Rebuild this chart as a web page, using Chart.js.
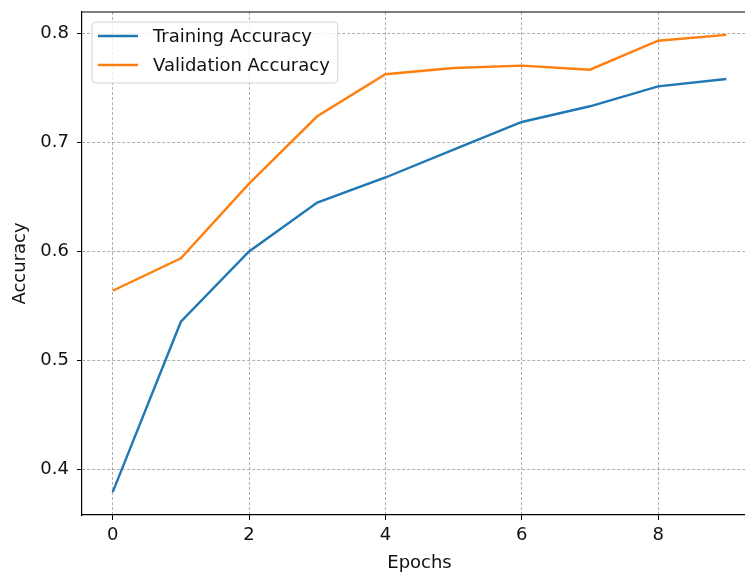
<!DOCTYPE html>
<html>
<head>
<meta charset="utf-8">
<script src="https://cdn.jsdelivr.net/npm/chart.js@4.4.1/dist/chart.umd.min.js"></script>
<style>
  html, body { margin: 0; padding: 0; background: #ffffff; overflow: hidden; }
  #wrap { position: relative; width: 770px; height: 572px; }
</style>
</head>
<body>
<div id="wrap"><canvas id="chart"></canvas></div>
<script>
// Training history over ten epochs
const epochs = [0, 1, 2, 3, 4, 5, 6, 7, 8, 9];
const trainingAccuracy   = [0.379, 0.5355, 0.600, 0.645, 0.668, 0.6935, 0.719, 0.7334, 0.7517, 0.7585];
const validationAccuracy = [0.564, 0.5938, 0.6624, 0.7242, 0.7628, 0.7686, 0.7707, 0.767, 0.7936, 0.799];
const xTickValues = [0, 2, 4, 6, 8];
const yTickValues = [0.4, 0.5, 0.6, 0.7, 0.8];

const FONT = 'DejaVu Sans';
const FS = 18;

// Axis limits with a 5% margin around the data
const allY = trainingAccuracy.concat(validationAccuracy);
const yLo = Math.min(...allY), yHi = Math.max(...allY);
const yPad = (yHi - yLo) * 0.05;
const xLo = Math.min(...epochs), xHi = Math.max(...epochs);
const xPad = (xHi - xLo) * 0.05;

const toPoints = (ys) => epochs.map((e, i) => ({ x: e, y: ys[i] }));

// Top frame line of the plotting area
const framePlugin = {
  id: 'frame',
  afterDraw(chart) {
    const { ctx, chartArea: a } = chart;
    ctx.save();
    ctx.strokeStyle = '#000';
    ctx.lineWidth = 1.2;
    ctx.beginPath();
    ctx.moveTo(a.left, a.top);
    ctx.lineTo(a.right, a.top);
    ctx.stroke();
    ctx.restore();
  }
};

// Legend box drawn inside the upper-left corner of the plot
const innerLegend = {
  id: 'innerLegend',
  afterDatasetsDraw(chart) {
    const { ctx, chartArea: a } = chart;
    const sets = chart.data.datasets;
    ctx.save();
    ctx.font = FS + 'px "' + FONT + '"';
    const maxW = Math.max(...sets.map(d => ctx.measureText(d.label).width));
    const bx = a.left + 10, by = a.top + 10;
    const lineLen = 40, padL = 6, gap = 15, padR = 8, rowH = 29, padT = 14;
    const bw = padL + lineLen + gap + maxW + padR;
    const bh = padT * 2 + rowH * (sets.length - 1) + 4;
    ctx.beginPath();
    ctx.roundRect(bx, by, bw, bh, 4);
    ctx.fillStyle = 'rgba(255,255,255,0.8)';
    ctx.fill();
    ctx.strokeStyle = '#d4d4d4';
    ctx.lineWidth = 1;
    ctx.stroke();
    sets.forEach((d, i) => {
      const cy = by + padT + i * rowH;
      ctx.strokeStyle = d.borderColor;
      ctx.lineWidth = d.borderWidth;
      ctx.beginPath();
      ctx.moveTo(bx + padL, cy);
      ctx.lineTo(bx + padL + lineLen, cy);
      ctx.stroke();
      ctx.fillStyle = '#111';
      ctx.textBaseline = 'middle';
      ctx.textAlign = 'left';
      ctx.fillText(d.label, bx + padL + lineLen + gap, cy + 1.5);
    });
    ctx.restore();
  }
};

const gridCommon = {
  color: 'rgba(130,130,130,0.8)',
  lineWidth: 0.8,
  tickColor: '#000',
  tickLength: 5,
  tickWidth: 1,
  drawTicks: true
};

new Chart(document.getElementById('chart'), {
  type: 'line',
  data: {
    datasets: [
      {
        label: 'Training Accuracy',
        data: toPoints(trainingAccuracy),
        borderColor: '#1f77b4',
        borderWidth: 2.4,
        pointRadius: 0,
        tension: 0,
        fill: false
      },
      {
        label: 'Validation Accuracy',
        data: toPoints(validationAccuracy),
        borderColor: '#ff7f0e',
        borderWidth: 2.4,
        pointRadius: 0,
        tension: 0,
        fill: false
      }
    ]
  },
  options: {
    responsive: true,
    maintainAspectRatio: false,
    animation: false,
    devicePixelRatio: 1,
    layout: { padding: { left: 0, top: 12, right: 13, bottom: 0 } },
    plugins: {
      legend: { display: false },
      tooltip: { enabled: false }
    },
    scales: {
      x: {
        type: 'linear',
        min: xLo - xPad,
        max: xHi + xPad,
        afterBuildTicks: (s) => { s.ticks = xTickValues.map(v => ({ value: v })); },
        afterFit: (s) => { s.height = 57; s.paddingLeft = 0; s.paddingRight = 0; },
        grid: Object.assign({}, gridCommon),
        border: { display: true, color: '#000', width: 1.2, dash: [3, 2] },
        ticks: {
          color: '#111',
          font: { family: FONT, size: FS },
          padding: 5,
          maxRotation: 0,
          callback: (v) => String(v)
        },
        title: {
          display: true,
          text: 'Epochs',
          color: '#111',
          font: { family: FONT, size: FS, lineHeight: 1 },
          padding: { top: 0, bottom: 0 }
        }
      },
      y: {
        type: 'linear',
        min: yLo - yPad,
        max: yHi + yPad,
        afterBuildTicks: (s) => { s.ticks = yTickValues.map(v => ({ value: v })); },
        afterFit: (s) => { s.width = 82; s.paddingTop = 0; s.paddingBottom = 0; },
        grid: Object.assign({}, gridCommon),
        border: { display: true, color: '#000', width: 1.2, dash: [3, 2] },
        ticks: {
          color: '#111',
          font: { family: FONT, size: FS },
          padding: 8,
          callback: (v) => v.toFixed(1)
        },
        title: {
          display: true,
          text: 'Accuracy',
          color: '#111',
          font: { family: FONT, size: FS, lineHeight: 1 },
          padding: { top: 11, bottom: 0 }
        }
      }
    }
  },
  plugins: [framePlugin, innerLegend]
});
</script>
</body>
</html>
